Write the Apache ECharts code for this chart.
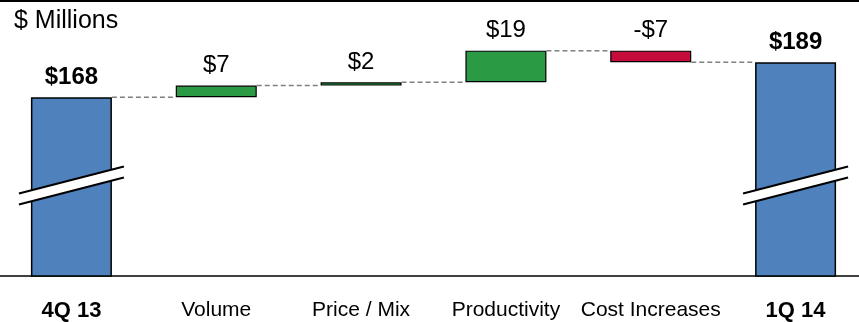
<!DOCTYPE html>
<html>
<head>
<meta charset="utf-8">
<title>Waterfall 4Q13 to 1Q14</title>
<script src="https://cdn.jsdelivr.net/npm/echarts@6/dist/echarts.min.js"></script>
<style>
  html,body{ margin:0; padding:0; background:#fff; }
  #chart{ width:859px; height:322px; }
</style>
</head>
<body>
<div id="chart"></div>
<script>
// ---------- data ----------
var categories = ["4Q 13", "Volume", "Price / Mix", "Productivity", "Cost Increases", "1Q 14"];
var kinds      = ["total", "delta", "delta", "delta", "delta", "total"];
var amounts    = [168, 7, 2, 19, -7, 189];
var valueLabels = ["$168", "$7", "$2", "$19", "-$7", "$189"];

// ---------- colours ----------
var BLUE = "#4F81BD", GREEN = "#2A9A45", RED = "#C50D3C";

(function(){
  "use strict";

  // base (transparent) + visible height, running level after each bar
  var base = [], height = [], level = [], run = 0;
  amounts.forEach(function(v, i){
    if(kinds[i] === "total"){
      run = v; base.push(0); height.push(v);
    }else{
      var next = run + v;
      base.push(Math.min(run, next)); height.push(Math.abs(v));
      run = next;
    }
    level.push(run);
  });

  function barColor(i){
    if(kinds[i] === "total") return BLUE;
    return amounts[i] >= 0 ? GREEN : RED;
  }

  var BAR_W = 81;
  var FONT = "Liberation Sans, Arial";

  // dashed connectors: from the right edge of bar i to the left edge of bar i+1
  var connectors = [];
  for(var i = 0; i < categories.length - 1; i++) connectors.push([i, level[i]]);

  // axis-break marks sit on the total bars
  var breaks = [];
  kinds.forEach(function(k, i){ if(k === "total") breaks.push([i, 115]); });

  var chart = echarts.init(document.getElementById("chart"), null, { renderer: "canvas" });

  chart.setOption({
    animation: false,
    backgroundColor: "#fff",
    grid: { left: -1, width: 869, top: 44, bottom: 46, containLabel: false, outerBoundsMode: "none" },
    xAxis: {
      type: "category",
      data: categories,
      axisLine: { lineStyle: { color: "#000", width: 1.5 } },
      axisTick: { show: false },
      axisLabel: {
        interval: 0, margin: 24, hideOverlap: false,
        formatter: function(v, i){ return kinds[i] === "total" ? "{b|" + v + "}" : "{n|" + v + "}"; },
        rich: {
          b: { fontFamily: FONT, fontSize: 22, fontWeight: "bold", color: "#000" },
          n: { fontFamily: FONT, fontSize: 21, color: "#000" }
        }
      }
    },
    yAxis: { type: "value", min: 60.6, max: 200, show: false, splitLine: { show: false } },
    graphic: [
      { type: "rect", shape: { x: 0, y: 0, width: 859, height: 2 }, style: { fill: "#000" } },
      { type: "text", left: 14, top: 9,
        style: { text: "$ Millions", font: "25px 'Liberation Sans', Arial", fill: "#000" } }
    ],
    series: [
      {
        type: "bar", stack: "wf", barWidth: BAR_W, silent: true,
        itemStyle: { color: "transparent" },
        data: base
      },
      {
        type: "bar", stack: "wf", barWidth: BAR_W,
        data: height.map(function(v, i){
          return {
            value: v,
            itemStyle: { color: barColor(i), borderColor: "#000", borderWidth: kinds[i] === "total" ? 1.5 : 1.2 },
            label: {
              show: true, position: "top", distance: 8,
              formatter: valueLabels[i],
              fontFamily: FONT, fontSize: 24,
              fontWeight: kinds[i] === "total" ? "bold" : "normal", color: "#000"
            }
          };
        })
      },
      {
        type: "custom", z: 3, silent: true,
        data: connectors,
        renderItem: function(params, api){
          var p = api.coord([api.value(0), api.value(1)]);
          var band = api.size([1, 0])[0];
          return {
            type: "line",
            shape: { x1: p[0] + BAR_W / 2, y1: p[1], x2: p[0] + band - BAR_W / 2, y2: p[1] },
            style: { stroke: "#808080", lineWidth: 1.5, lineDash: [5, 3] }
          };
        }
      },
      {
        type: "custom", z: 4, silent: true,
        data: breaks,
        renderItem: function(params, api){
          var c = api.coord([api.value(0), api.value(1)]);
          var x0 = c[0] - 52.5, x1 = c[0] + 52.5, y = c[1];
          return {
            type: "group",
            children: [
              { type: "polygon",
                shape: { points: [[x0, y + 8], [x1, y - 19], [x1, y - 8], [x0, y + 19]] },
                style: { fill: "#fff" } },
              { type: "line", shape: { x1: x0, y1: y + 8, x2: x1, y2: y - 19 },
                style: { stroke: "#000", lineWidth: 2 } },
              { type: "line", shape: { x1: x0, y1: y + 19, x2: x1, y2: y - 8 },
                style: { stroke: "#000", lineWidth: 2 } }
            ]
          };
        }
      }
    ]
  });
})();
</script>
</body>
</html>
